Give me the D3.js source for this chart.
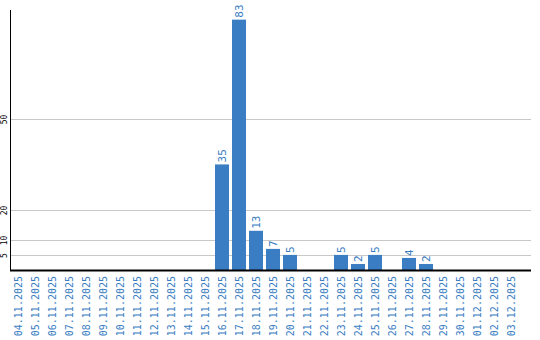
<!DOCTYPE html>
<html lang="en">
  <head>
    <meta charset="UTF-8" />
    <title>Daily counts</title>
    <script src="https://d3js.org/d3.v7.min.js"></script>
    <style>
      body {
        margin: 0;
        background: #fff;
      }
      svg {
        display: block;
      }
      .tick-label {
        font-family: "DejaVu Sans Mono", monospace;
      }
    </style>
  </head>
  <body>
    <svg width="540" height="340"></svg>
    <script>
      const dates = [
        "04.11.2025", "05.11.2025", "06.11.2025", "07.11.2025", "08.11.2025",
        "09.11.2025", "10.11.2025", "11.11.2025", "12.11.2025", "13.11.2025",
        "14.11.2025", "15.11.2025", "16.11.2025", "17.11.2025", "18.11.2025",
        "19.11.2025", "20.11.2025", "21.11.2025", "22.11.2025", "23.11.2025",
        "24.11.2025", "25.11.2025", "26.11.2025", "27.11.2025", "28.11.2025",
        "29.11.2025", "30.11.2025", "01.12.2025", "02.12.2025", "03.12.2025",
      ];
      const counts = [
        0, 0, 0, 0, 0, 0, 0, 0, 0, 0, 0, 0, 35, 83, 13, 7, 5, 0, 0, 5, 2, 5, 0,
        4, 2, 0, 0, 0, 0, 0,
      ];
      const yTicks = [5, 10, 20, 50];

      const blue = "#3a7dc2";
      const svg = d3.select("svg");

      const plotLeft = 10.5;
      const plotRight = 531;
      const plotTop = 10;
      const plotBottom = 270;

      const x = d3
        .scaleBand()
        .domain(dates)
        .range([9.5, 519.5])
        .paddingInner(3 / 17)
        .paddingOuter(1.5 / 17);

      const y = d3
        .scaleLinear()
        .domain([0, 86.2])
        .range([plotBottom, plotTop]);

      // gridlines
      svg
        .append("g")
        .selectAll("line")
        .data(yTicks)
        .join("line")
        .attr("x1", plotLeft)
        .attr("x2", plotRight)
        .attr("y1", (d) => Math.round(y(d)) + 0.5)
        .attr("y2", (d) => Math.round(y(d)) + 0.5)
        .attr("stroke", "#c8c8c8")
        .attr("stroke-width", 1);

      // y tick labels, rotated
      svg
        .append("g")
        .selectAll("text")
        .data(yTicks)
        .join("text")
        .attr("class", "tick-label")
        .attr(
          "transform",
          (d) => `translate(7,${Math.round(y(d)) + 0.5}) rotate(-90)`
        )
        .attr("text-anchor", "middle")
        .attr("font-size", 8)
        .attr("fill", "#000")
        .text((d) => d);

      const data = dates.map((d, i) => ({ date: d, value: counts[i] }));

      // bars
      svg
        .append("g")
        .selectAll("rect")
        .data(data.filter((d) => d.value > 0))
        .join("rect")
        .attr("x", (d) => x(d.date))
        .attr("width", x.bandwidth())
        .attr("y", (d) => y(d.value))
        .attr("height", (d) => plotBottom - y(d.value))
        .attr("fill", blue);

      // value labels
      svg
        .append("g")
        .selectAll("text")
        .data(data.filter((d) => d.value > 0))
        .join("text")
        .attr("class", "tick-label")
        .attr(
          "transform",
          (d) =>
            `translate(${x(d.date) + x.bandwidth() / 2 + 3.5},${
              y(d.value) - 2
            }) rotate(-90)`
        )
        .attr("text-anchor", "start")
        .attr("font-size", 11)
        .attr("fill", blue)
        .text((d) => d.value);

      // x labels
      svg
        .append("g")
        .selectAll("text")
        .data(dates)
        .join("text")
        .attr("class", "tick-label")
        .attr(
          "transform",
          (d) =>
            `translate(${x(d) + x.bandwidth() / 2 + 3.5},276) rotate(-90)`
        )
        .attr("text-anchor", "end")
        .attr("font-size", 10)
        .attr("fill", blue)
        .text((d) => d);

      // axes
      svg
        .append("line")
        .attr("x1", plotLeft)
        .attr("x2", plotLeft)
        .attr("y1", plotTop)
        .attr("y2", plotBottom)
        .attr("stroke", "#000")
        .attr("stroke-width", 1);

      svg
        .append("line")
        .attr("x1", plotLeft - 0.5)
        .attr("x2", plotRight)
        .attr("y1", plotBottom + 0.5)
        .attr("y2", plotBottom + 0.5)
        .attr("stroke", "#000")
        .attr("stroke-width", 2);
    </script>
  </body>
</html>
